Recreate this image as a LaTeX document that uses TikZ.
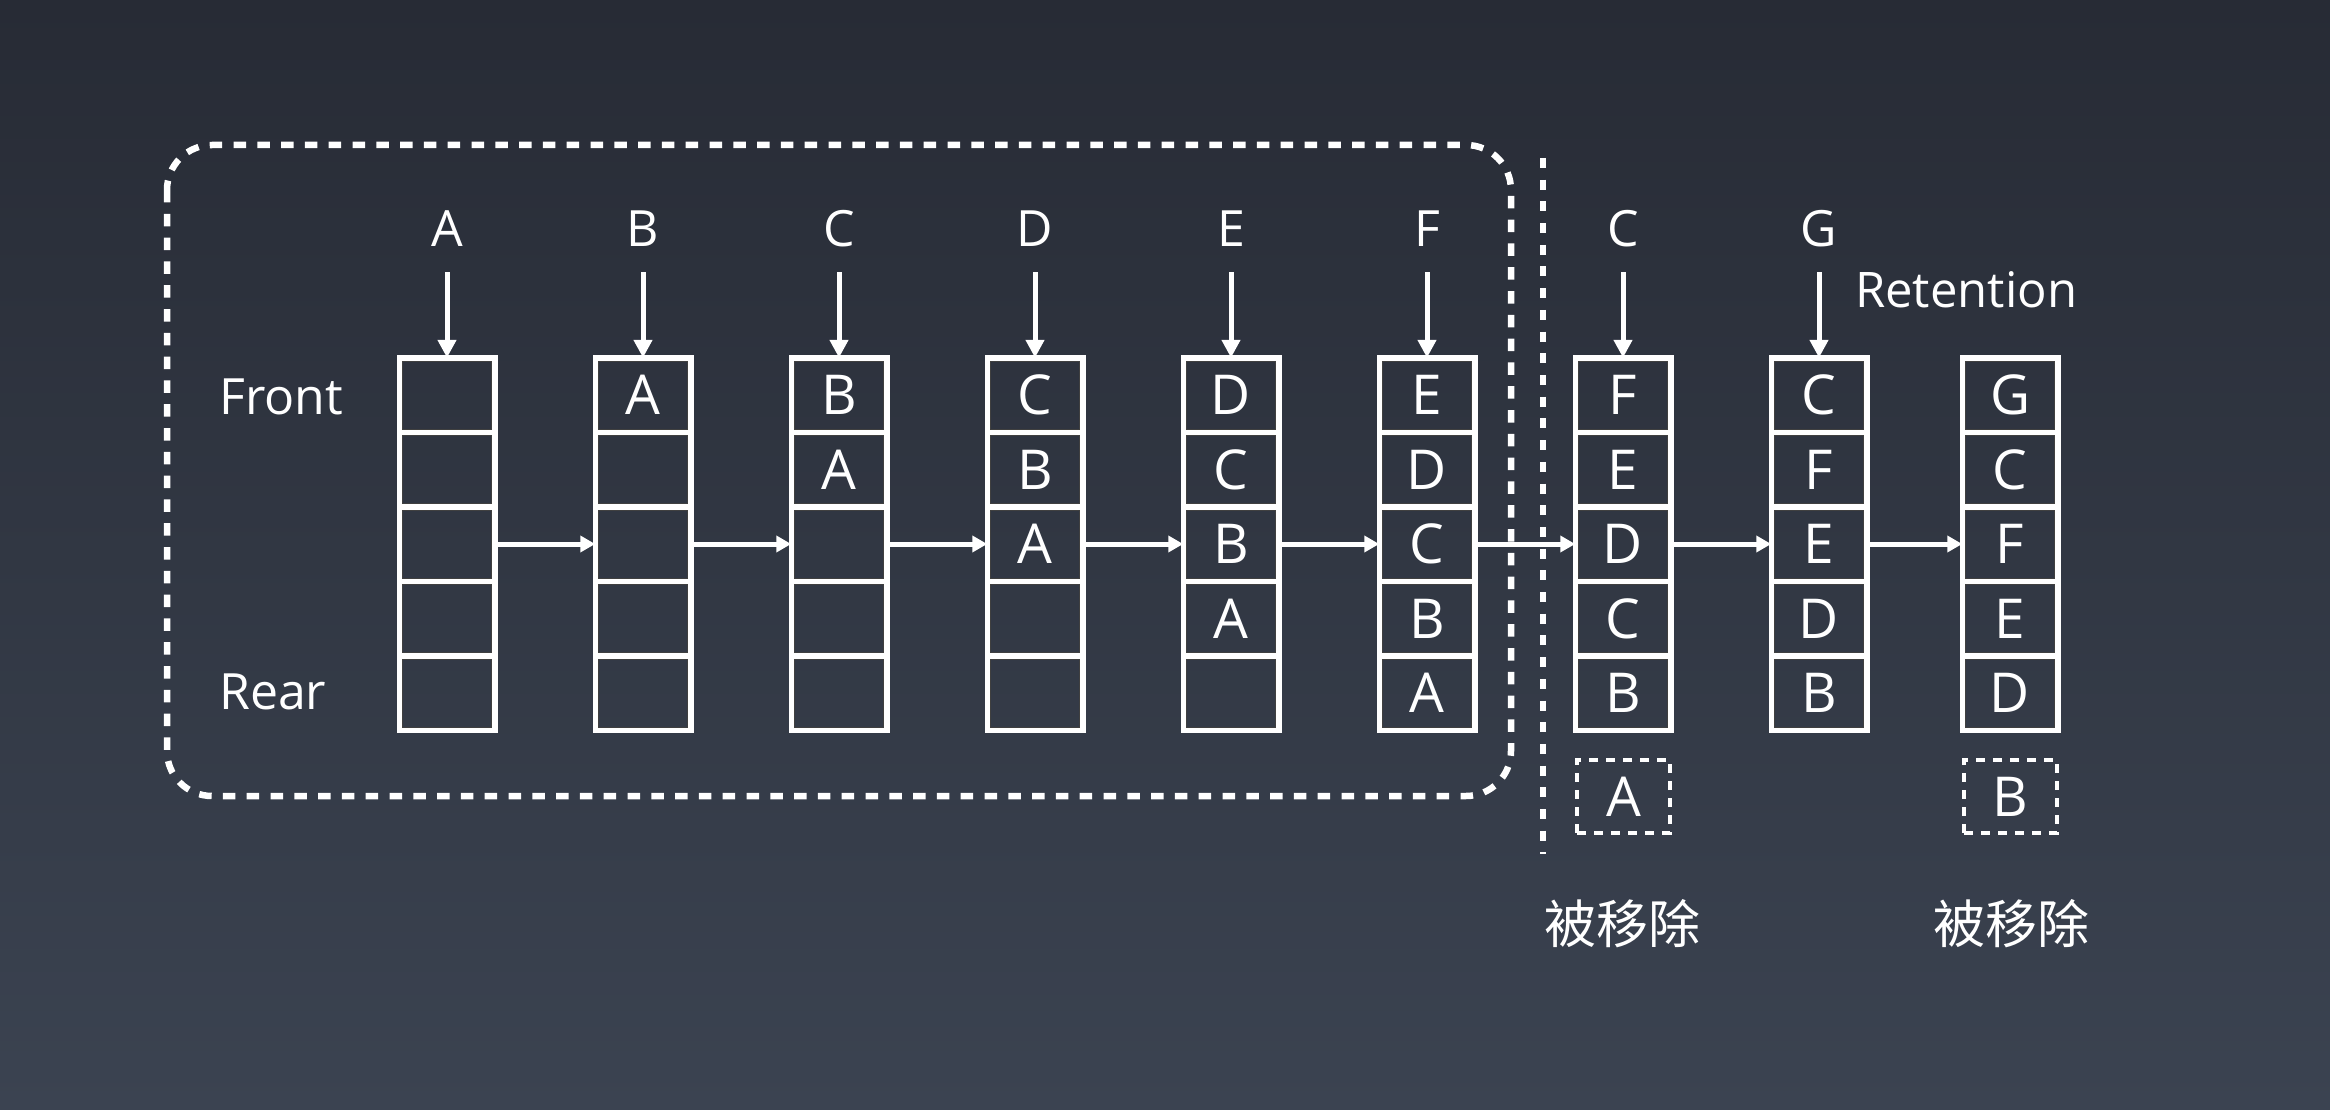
\documentclass[tikz,border=0pt]{standalone}
\usepackage{fontspec}
\setmainfont{Open Sans}
\newfontfamily\cjk{Noto Sans CJK SC}
\usepackage{tikz}
\usetikzlibrary{arrows.meta}

\definecolor{bgtop}{HTML}{272B35}
\definecolor{bgbot}{HTML}{3B4351}

\begin{document}
\begin{tikzpicture}[x=1pt, y=-1pt,
  cell/.style={draw=white, line width=5.5pt, minimum width=95.5pt, minimum height=74.5pt, inner sep=0pt, outer sep=0pt,
    text=white, font=\fontsize{55}{60}\selectfont, text height=39.3pt, text depth=0pt,
    path picture={\draw[black!75, line width=0.8pt] ([xshift=3.2pt, yshift=-3.2pt]path picture bounding box.north west) rectangle ([xshift=-3.2pt, yshift=3.2pt]path picture bounding box.south east);}},
  inlabel/.style={text=white, font=\fontsize{50}{60}\selectfont, inner sep=0pt, text height=36pt, text depth=0pt},
  side/.style={text=white, font=\fontsize{50}{60}\selectfont, inner sep=0pt, anchor=west},
  arr/.style={white, line width=5pt, arrows={-Triangle[width=18pt, length=18pt]}},
  hop/.style={white, line width=5pt, arrows={-Triangle[width=16pt, length=15pt]}},
  dashbox/.style={white, line width=6.5pt, dash pattern=on 12.5pt off 11.3pt},
  gone/.style={draw=white, line width=4pt, dash pattern=on 9pt off 8pt, minimum width=93pt, minimum height=73pt, inner sep=0pt,
    text=white, font=\fontsize{55}{60}\selectfont, text height=39.3pt, text depth=0pt},
  note/.style={text=white, font=\cjk\fontsize{52}{60}\selectfont, inner sep=0pt}]
\useasboundingbox (0,0) rectangle (2330,1110);
\shade[top color=bgtop, bottom color=bgbot] (0,0) rectangle (2330,1110);
% queue states, front at the top
\foreach \i/\x/\a/\b/\c/\d/\e in {1/447/{}/{}/{}/{}/{}, 2/643/A/{}/{}/{}/{}, 3/839/B/A/{}/{}/{}, 4/1035/C/B/A/{}/{}, 5/1231/D/C/B/A/{},
    6/1427/E/D/C/B/A, 7/1623/F/E/D/C/B, 8/1819/C/F/E/D/B, 9/2010/G/C/F/E/D} {
  \node[cell] (q\i-1) at (\x, 395) {\a};
  \node[cell] (q\i-2) at (\x, 469.5) {\b};
  \node[cell] (q\i-3) at (\x, 544) {\c};
  \node[cell] (q\i-4) at (\x, 618.5) {\d};
  \node[cell] (q\i-5) at (\x, 693) {\e};
}
% incoming items
\foreach \i/\x/\t in {1/447/A, 2/643/B, 3/839/C, 4/1035/D, 5/1231/E, 6/1427/F, 7/1623/C, 8/1819/G} {
  \node[inlabel] (in\i) at (\x, 229) {\t};
  \draw[arr, shorten <=25pt] (in\i) -- (q\i-1);
}
\foreach \i/\j in {1/2, 2/3, 3/4, 4/5, 5/6, 6/7, 7/8, 8/9}
  \draw[hop] (q\i-3) -- (q\j-3);
\node[side] (front) at (219, 397) {Front};
\node[side] (rear) at (219, 692) {Rear};
\node[side, font=\fontsize{49}{60}\selectfont] (keep) at (1855, 290) {Retention};
\draw[dashbox, rounded corners=45pt] (167,145) rectangle (1511,796);
\draw[dashbox, dash pattern=on 10pt off 11.7pt] (1543,158) -- (1543,854);
% removed items
\node[gone] (out1) at (1623.5, 796.5) {A};
\node[gone] (out2) at (2010.5, 796.5) {B};
\node[note] (note1) at (1622, 924) {被移除};
\node[note] (note2) at (2011, 924) {被移除};
\end{tikzpicture}
\end{document}
